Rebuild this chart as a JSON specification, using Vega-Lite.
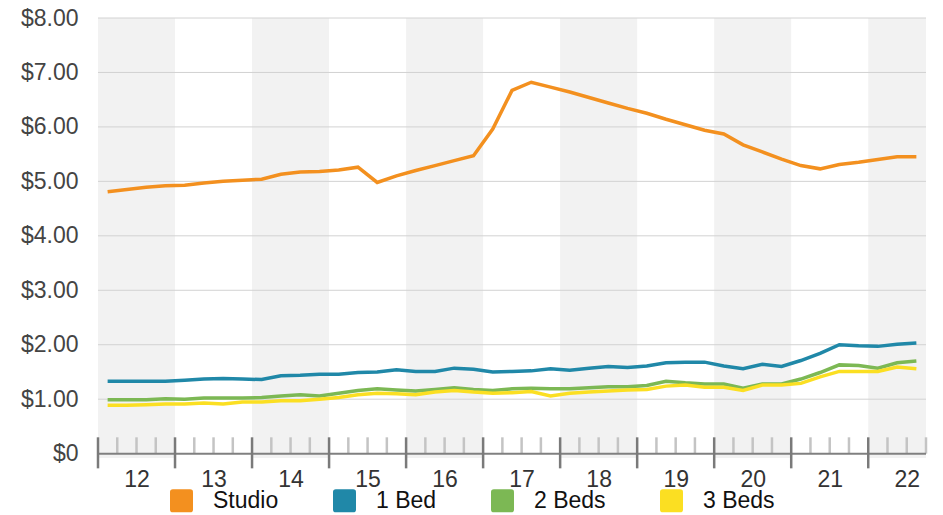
{
  "$schema": "https://vega.github.io/schema/vega-lite/v6.json",
  "width": 828,
  "height": 440,
  "autosize": "none",
  "padding": {"left": 98, "top": 18, "right": 17, "bottom": 57},
  "config": {
    "view": {"stroke": null},
    "font": "Liberation Sans",
    "axis": {"grid": false, "ticks": false, "domain": false, "labelFontSize": 23, "labelFlush": false, "labelOverlap": false}
  },
  "datasets": {
    "rents": [
      {"t": 12.125, "Studio": 4.81, "1 Bed": 1.33, "2 Beds": 0.99, "3 Beds": 0.89},
      {"t": 12.375, "Studio": 4.85, "1 Bed": 1.33, "2 Beds": 0.99, "3 Beds": 0.89},
      {"t": 12.625, "Studio": 4.89, "1 Bed": 1.33, "2 Beds": 0.99, "3 Beds": 0.90},
      {"t": 12.875, "Studio": 4.92, "1 Bed": 1.33, "2 Beds": 1.01, "3 Beds": 0.91},
      {"t": 13.125, "Studio": 4.93, "1 Bed": 1.35, "2 Beds": 1.00, "3 Beds": 0.91},
      {"t": 13.375, "Studio": 4.97, "1 Bed": 1.37, "2 Beds": 1.02, "3 Beds": 0.93},
      {"t": 13.625, "Studio": 5.00, "1 Bed": 1.38, "2 Beds": 1.02, "3 Beds": 0.91},
      {"t": 13.875, "Studio": 5.02, "1 Bed": 1.37, "2 Beds": 1.02, "3 Beds": 0.95},
      {"t": 14.125, "Studio": 5.04, "1 Bed": 1.36, "2 Beds": 1.03, "3 Beds": 0.95},
      {"t": 14.375, "Studio": 5.13, "1 Bed": 1.43, "2 Beds": 1.06, "3 Beds": 0.97},
      {"t": 14.625, "Studio": 5.17, "1 Bed": 1.44, "2 Beds": 1.08, "3 Beds": 0.97},
      {"t": 14.875, "Studio": 5.18, "1 Bed": 1.46, "2 Beds": 1.06, "3 Beds": 1.00},
      {"t": 15.125, "Studio": 5.21, "1 Bed": 1.46, "2 Beds": 1.11, "3 Beds": 1.03},
      {"t": 15.375, "Studio": 5.26, "1 Bed": 1.49, "2 Beds": 1.16, "3 Beds": 1.08},
      {"t": 15.625, "Studio": 4.98, "1 Bed": 1.50, "2 Beds": 1.19, "3 Beds": 1.11},
      {"t": 15.875, "Studio": 5.10, "1 Bed": 1.54, "2 Beds": 1.17, "3 Beds": 1.10},
      {"t": 16.125, "Studio": 5.20, "1 Bed": 1.51, "2 Beds": 1.15, "3 Beds": 1.08},
      {"t": 16.375, "Studio": 5.29, "1 Bed": 1.51, "2 Beds": 1.18, "3 Beds": 1.13},
      {"t": 16.625, "Studio": 5.38, "1 Bed": 1.57, "2 Beds": 1.21, "3 Beds": 1.16},
      {"t": 16.875, "Studio": 5.47, "1 Bed": 1.55, "2 Beds": 1.18, "3 Beds": 1.13},
      {"t": 17.125, "Studio": 5.96, "1 Bed": 1.50, "2 Beds": 1.16, "3 Beds": 1.11},
      {"t": 17.375, "Studio": 6.67, "1 Bed": 1.51, "2 Beds": 1.19, "3 Beds": 1.12},
      {"t": 17.625, "Studio": 6.82, "1 Bed": 1.52, "2 Beds": 1.20, "3 Beds": 1.14},
      {"t": 17.875, "Studio": 6.73, "1 Bed": 1.56, "2 Beds": 1.19, "3 Beds": 1.06},
      {"t": 18.125, "Studio": 6.64, "1 Bed": 1.53, "2 Beds": 1.19, "3 Beds": 1.11},
      {"t": 18.375, "Studio": 6.54, "1 Bed": 1.57, "2 Beds": 1.21, "3 Beds": 1.13},
      {"t": 18.625, "Studio": 6.44, "1 Bed": 1.60, "2 Beds": 1.23, "3 Beds": 1.15},
      {"t": 18.875, "Studio": 6.34, "1 Bed": 1.58, "2 Beds": 1.23, "3 Beds": 1.17},
      {"t": 19.125, "Studio": 6.25, "1 Bed": 1.61, "2 Beds": 1.25, "3 Beds": 1.18},
      {"t": 19.375, "Studio": 6.14, "1 Bed": 1.67, "2 Beds": 1.33, "3 Beds": 1.24},
      {"t": 19.625, "Studio": 6.04, "1 Bed": 1.68, "2 Beds": 1.30, "3 Beds": 1.26},
      {"t": 19.875, "Studio": 5.94, "1 Bed": 1.68, "2 Beds": 1.28, "3 Beds": 1.22},
      {"t": 20.125, "Studio": 5.87, "1 Bed": 1.61, "2 Beds": 1.28, "3 Beds": 1.22},
      {"t": 20.375, "Studio": 5.67, "1 Bed": 1.56, "2 Beds": 1.20, "3 Beds": 1.16},
      {"t": 20.625, "Studio": 5.54, "1 Bed": 1.64, "2 Beds": 1.28, "3 Beds": 1.26},
      {"t": 20.875, "Studio": 5.41, "1 Bed": 1.60, "2 Beds": 1.28, "3 Beds": 1.26},
      {"t": 21.125, "Studio": 5.29, "1 Bed": 1.71, "2 Beds": 1.37, "3 Beds": 1.29},
      {"t": 21.375, "Studio": 5.23, "1 Bed": 1.84, "2 Beds": 1.49, "3 Beds": 1.41},
      {"t": 21.625, "Studio": 5.31, "1 Bed": 2.00, "2 Beds": 1.63, "3 Beds": 1.51},
      {"t": 21.875, "Studio": 5.35, "1 Bed": 1.98, "2 Beds": 1.62, "3 Beds": 1.51},
      {"t": 22.125, "Studio": 5.40, "1 Bed": 1.97, "2 Beds": 1.57, "3 Beds": 1.51},
      {"t": 22.375, "Studio": 5.45, "1 Bed": 2.01, "2 Beds": 1.67, "3 Beds": 1.59},
      {"t": 22.625, "Studio": 5.45, "1 Bed": 2.03, "2 Beds": 1.70, "3 Beds": 1.56}
    ],
    "bands": [
      {"start": 12, "end": 13},
      {"start": 14, "end": 15},
      {"start": 16, "end": 17},
      {"start": 18, "end": 19},
      {"start": 20, "end": 21},
      {"start": 22, "end": 23}
    ],
    "grid": [{"g": 1}, {"g": 2}, {"g": 3}, {"g": 4}, {"g": 5}, {"g": 6}, {"g": 7}, {"g": 8}],
    "major": [{"t": 12}, {"t": 13}, {"t": 14}, {"t": 15}, {"t": 16}, {"t": 17}, {"t": 18}, {"t": 19}, {"t": 20}, {"t": 21}, {"t": 22}],
    "minor": [
      {"t": 12.25}, {"t": 12.5}, {"t": 12.75}, {"t": 13.25}, {"t": 13.5}, {"t": 13.75},
      {"t": 14.25}, {"t": 14.5}, {"t": 14.75}, {"t": 15.25}, {"t": 15.5}, {"t": 15.75},
      {"t": 16.25}, {"t": 16.5}, {"t": 16.75}, {"t": 17.25}, {"t": 17.5}, {"t": 17.75},
      {"t": 18.25}, {"t": 18.5}, {"t": 18.75}, {"t": 19.25}, {"t": 19.5}, {"t": 19.75},
      {"t": 20.25}, {"t": 20.5}, {"t": 20.75}, {"t": 21.25}, {"t": 21.5}, {"t": 21.75},
      {"t": 22.25}, {"t": 22.5}, {"t": 22.75}
    ]
  },
  "layer": [
    {
      "data": {"name": "bands"},
      "mark": {"type": "rect", "color": "#f2f2f2", "clip": true},
      "encoding": {
        "x": {"field": "start", "type": "quantitative", "title": null, "scale": {"domain": [12, 22.75], "nice": false, "zero": false}},
        "x2": {"field": "end"}
      }
    },
    {
      "data": {"name": "grid"},
      "mark": {"type": "rule", "color": "#d2d2d2", "strokeWidth": 1},
      "encoding": {
        "y": {"field": "g", "type": "quantitative", "title": null, "scale": {"domain": [-0.08, 8], "nice": false, "zero": false}}
      }
    },
    {
      "data": {"name": "rents"},
      "transform": [{"fold": ["Studio", "1 Bed", "2 Beds", "3 Beds"], "as": ["type", "rent"]}],
      "mark": {"type": "line", "strokeWidth": 3.5},
      "encoding": {
        "x": {
          "field": "t", "type": "quantitative", "title": null,
          "axis": {
            "values": [12.5, 13.5, 14.5, 15.5, 16.5, 17.5, 18.5, 19.5, 20.5, 21.5, 22.5],
            "labelExpr": "floor(datum.value)",
            "title": null, "ticks": false, "domain": false, "grid": false,
            "labelFontSize": 23, "labelColor": "#333333", "labelPadding": 10,
            "labelFlush": false, "labelOverlap": false
          }
        },
        "y": {
          "field": "rent", "type": "quantitative", "title": null,
          "axis": {
            "values": [0, 1, 2, 3, 4, 5, 6, 7, 8],
            "labelExpr": "datum.value == 0 ? '$0' : '$' + format(datum.value, '.2f')",
            "title": null, "ticks": false, "domain": false, "grid": false,
            "labelFontSize": 23, "labelColor": "#444444", "labelPadding": 20,
            "labelFlush": false, "labelOverlap": false
          }
        },
        "color": {
          "field": "type", "type": "nominal",
          "sort": ["Studio", "1 Bed", "2 Beds", "3 Beds"],
          "scale": {"domain": ["Studio", "1 Bed", "2 Beds", "3 Beds"], "range": ["#f3901f", "#2088a8", "#7cb854", "#fbdf22"]},
          "legend": {
            "orient": "none", "legendX": 72, "legendY": 471, "direction": "horizontal",
            "title": null, "padding": 0,
            "symbolType": "M-1,-0.75Q-1,-1,-0.75,-1L0.75,-1Q1,-1,1,-0.75L1,0.75Q1,1,0.75,1L-0.75,1Q-1,1,-1,0.75Z",
            "symbolSize": 529, "symbolStrokeWidth": 0, "symbolOpacity": 1,
            "labelFontSize": 23, "labelColor": "#111111", "labelOffset": 20, "columnPadding": 54,
            "encode": {"symbols": {"update": {"fill": {"scale": "color", "field": "value"}, "stroke": {"value": "transparent"}}}}
          }
        }
      }
    },
    {
      "data": {"name": "minor"},
      "mark": {"type": "rule", "color": "#c4c4c4", "strokeWidth": 2.5},
      "encoding": {
        "x": {"field": "t", "type": "quantitative", "title": null},
        "y": {"datum": 0.3, "title": null},
        "y2": {"datum": 0}
      }
    },
    {
      "data": {"values": [{}]},
      "mark": {"type": "rule", "color": "#808080", "strokeWidth": 2},
      "encoding": {
        "x": {"datum": 12, "title": null},
        "x2": {"datum": 22.75},
        "y": {"datum": 0, "title": null}
      }
    },
    {
      "data": {"name": "major"},
      "mark": {"type": "rule", "color": "#7a7a7a", "strokeWidth": 2.5},
      "encoding": {
        "x": {"field": "t", "type": "quantitative", "title": null},
        "y": {"datum": 0.3, "title": null},
        "y2": {"datum": -0.27}
      }
    }
  ]
}
